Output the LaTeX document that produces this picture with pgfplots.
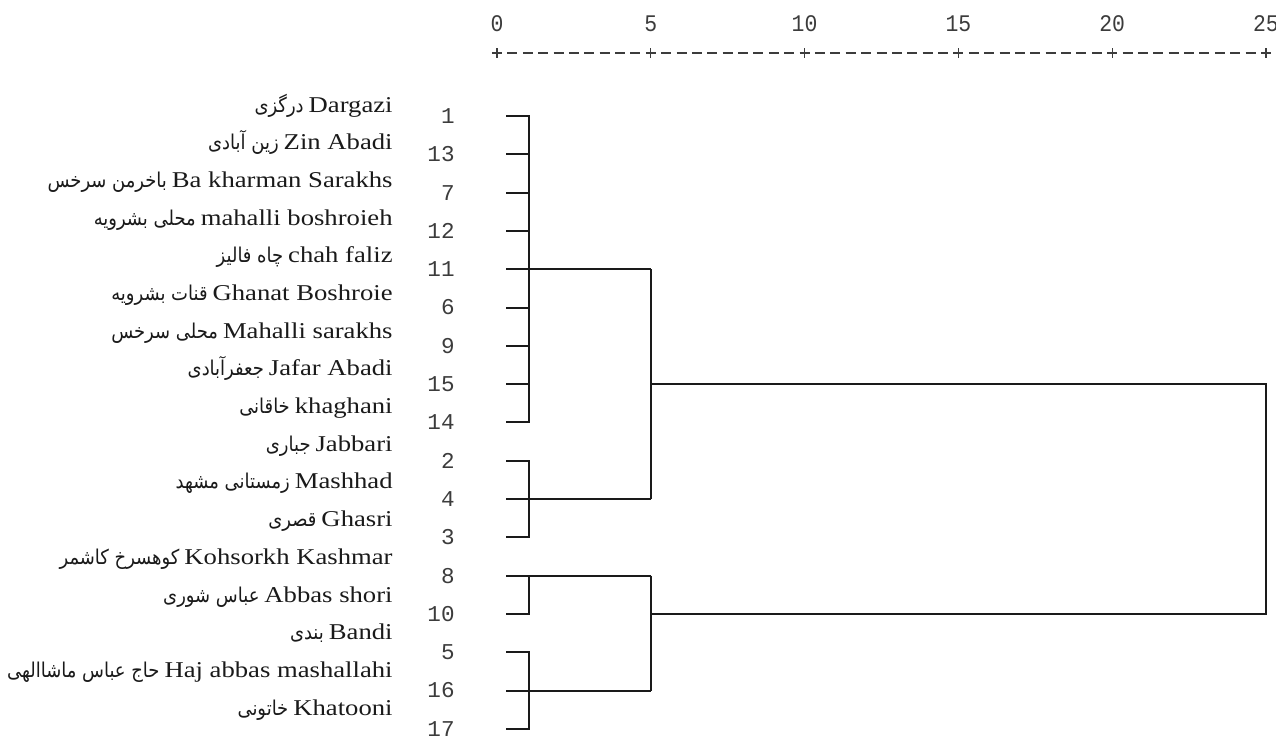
\documentclass[border=0pt]{standalone}
\usepackage{pgfplots}
\pgfplotsset{compat=1.18}
\usepackage{fontspec}
\setmainfont{Liberation Serif}
\newfontfamily\lab[FakeStretch=1.18]{Liberation Serif}
\newfontfamily\fa[Script=Arabic,FakeStretch=0.88]{DejaVu Sans}
\newfontfamily\mono{Liberation Mono}
\newfontfamily\monotall[FakeStretch=0.9]{Liberation Mono}
\TeXXeTstate=1
\definecolor{ink}{HTML}{1A1A1A}
\definecolor{numgray}{HTML}{3C3C3C}
\newcommand\lat{\lab\fontsize{11.3}{13}\selectfont}
\newcommand\per{\fa\fontsize{10.2}{12}\selectfont}

\begin{document}
\begin{tikzpicture}
\useasboundingbox (0,0) rectangle (638pt,-367.5pt);
\begin{axis}[
  at={(248.5pt,-26.5pt)}, anchor=north west,
  x=15.38pt, y=19.15pt,
  xmin=0, xmax=25, ymin=-17.3, ymax=0.645,
  axis x line*=top, axis y line*=left,
  y axis line style={draw=none},
  x axis line style={draw=numgray, line width=0.6pt,
    dash pattern=on 5pt off 2.69pt, shorten <=-2.5pt, shorten >=-2.5pt},
  xtick={0,5,...,25},
  tick align=center, major tick length=5pt,
  xtick style={draw=numgray, line width=0.6pt},
  ytick style={draw=none},
  xticklabel style={font=\monotall\fontsize{11.9}{12}\selectfont, text=numgray,
    anchor=center, yshift=12pt, inner sep=0pt,
    /pgf/number format/assume math mode=true},
  ytick={-17,...,-1},
  yticklabels={17,16,5,10,8,3,4,2,14,15,9,6,11,12,7,13,1},
  yticklabel style={font=\mono\fontsize{11.3}{12}\selectfont, text=numgray,
    anchor=east, inner sep=0pt, xshift=-18.5pt},
  clip=false,
]
% cluster 1,13,7,12,11,6,9,15,14
\addplot[ink, line width=1pt, no marks] coordinates {(0.3,-1) (1.04,-1) (1.04,-9) (0.3,-9)};
\addplot[ink, line width=1pt, no marks] coordinates {(0.3,-2) (1.04,-2)};
\addplot[ink, line width=1pt, no marks] coordinates {(0.3,-3) (1.04,-3)};
\addplot[ink, line width=1pt, no marks] coordinates {(0.3,-4) (1.04,-4)};
\addplot[ink, line width=1pt, no marks] coordinates {(0.3,-5) (5,-5)};
\addplot[ink, line width=1pt, no marks] coordinates {(0.3,-6) (1.04,-6)};
\addplot[ink, line width=1pt, no marks] coordinates {(0.3,-7) (1.04,-7)};
\addplot[ink, line width=1pt, no marks] coordinates {(0.3,-8) (1.04,-8)};
% cluster 2,4,3
\addplot[ink, line width=1pt, no marks] coordinates {(0.3,-10) (1.04,-10) (1.04,-12) (0.3,-12)};
\addplot[ink, line width=1pt, no marks] coordinates {(0.3,-11) (5,-11)};
% cluster 8,10
\addplot[ink, line width=1pt, no marks] coordinates {(0.3,-14) (1.04,-14) (1.04,-13)};
\addplot[ink, line width=1pt, no marks] coordinates {(0.3,-13) (5,-13)};
% cluster 5,16,17
\addplot[ink, line width=1pt, no marks] coordinates {(0.3,-15) (1.04,-15) (1.04,-17) (0.3,-17)};
\addplot[ink, line width=1pt, no marks] coordinates {(0.3,-16) (5,-16)};
% higher joins
\addplot[ink, line width=1pt, no marks] coordinates {(5,-5) (5,-11)};
\addplot[ink, line width=1pt, no marks] coordinates {(5,-13) (5,-16)};
\addplot[ink, line width=1pt, no marks] coordinates {(5,-8) (25,-8) (25,-14) (5,-14)};
% genotype names: Persian name, then Latin transcription
\begin{scope}[every node/.style={anchor=base east, inner sep=0pt, text=ink}]
\node at (axis cs:-3.381,-0.8956) {{\per\beginR درگزی\endR}\ {\lat Dargazi}};
\node at (axis cs:-3.381,-1.8799) {{\per\beginR زین آبادی\endR}\ {\lat Zin Abadi}};
\node at (axis cs:-3.381,-2.8642) {{\per\beginR باخرمن سرخس\endR}\ {\lat Ba kharman Sarakhs}};
\node at (axis cs:-3.381,-3.8485) {{\per\beginR محلی بشرویه\endR}\ {\lat mahalli boshroieh}};
\node at (axis cs:-3.381,-4.8328) {{\per\beginR چاه فالیز\endR}\ {\lat chah faliz}};
\node at (axis cs:-3.381,-5.8171) {{\per\beginR قنات بشرویه\endR}\ {\lat Ghanat Boshroie}};
\node at (axis cs:-3.381,-6.8014) {{\per\beginR محلی سرخس\endR}\ {\lat Mahalli sarakhs}};
\node at (axis cs:-3.381,-7.7857) {{\per\beginR جعفرآبادی\endR}\ {\lat Jafar Abadi}};
\node at (axis cs:-3.381,-8.7700) {{\per\beginR خاقانی\endR}\ {\lat khaghani}};
\node at (axis cs:-3.381,-9.7543) {{\per\beginR جباری\endR}\ {\lat Jabbari}};
\node at (axis cs:-3.381,-10.7386) {{\per\beginR زمستانی مشهد\endR}\ {\lat Mashhad}};
\node at (axis cs:-3.381,-11.7229) {{\per\beginR قصری\endR}\ {\lat Ghasri}};
\node at (axis cs:-3.381,-12.7072) {{\per\beginR کوهسرخ کاشمر\endR}\ {\lat Kohsorkh Kashmar}};
\node at (axis cs:-3.381,-13.6915) {{\per\beginR عباس شوری\endR}\ {\lat Abbas shori}};
\node at (axis cs:-3.381,-14.6758) {{\per\beginR بندی\endR}\ {\lat Bandi}};
\node at (axis cs:-3.381,-15.6601) {{\per\beginR حاج عباس ماشاالهی\endR}\ {\lat Haj abbas mashallahi}};
\node at (axis cs:-3.381,-16.6444) {{\per\beginR خاتونی\endR}\ {\lat Khatooni}};
\end{scope}
\end{axis}
\end{tikzpicture}
\end{document}
